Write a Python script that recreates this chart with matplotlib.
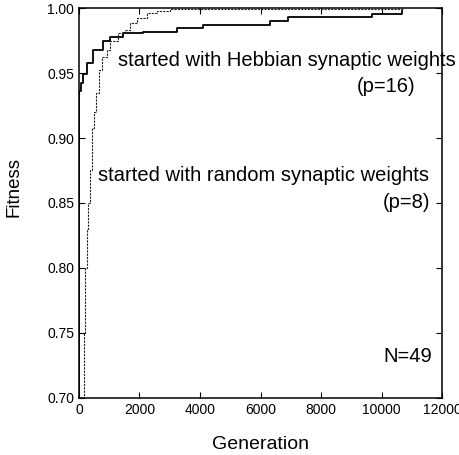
import matplotlib.pyplot as plt

plt.rcParams['font.family'] = ['Liberation Sans', 'DejaVu Sans']

# Hebbian start (p=16)
hebb_gen = [0, 0, 60, 130, 265, 460, 790, 1025, 1450, 2115, 3240, 4100, 6315, 6910, 9685, 10680]
hebb_fit = [0.70, 0.936, 0.942, 0.949, 0.958, 0.968, 0.975, 0.978, 0.981, 0.9815, 0.985, 0.987,
            0.990, 0.993, 0.9954, 0.9977]

# random start (p=8)
rand_gen = [130, 170, 200, 250, 300, 360, 430, 500, 560, 660, 760, 925, 1025, 1290, 1520, 1690,
            1920, 2250, 2580, 3010, 10700]
rand_fit = [0.70, 0.75, 0.80, 0.83, 0.85, 0.875, 0.908, 0.92, 0.935, 0.952, 0.962, 0.968, 0.975,
            0.981, 0.983, 0.9885, 0.992, 0.996, 0.998, 0.9995, 0.9995]

fig = plt.figure(figsize=(4.6, 4.55), dpi=100)
ax = fig.add_axes([0.1717, 0.1253, 0.7893, 0.8571])

ax.plot(hebb_gen, hebb_fit, drawstyle='steps-post', color='black', lw=1.3)
ax.plot(rand_gen, rand_fit, drawstyle='steps-post', color='#222222', lw=0.8, ls=(0, (2, 1)))

ax.set_xlim(0, 12000)
ax.set_ylim(0.70, 1.00)
ax.set_xticks(range(0, 12001, 2000))
ax.set_yticks([0.70, 0.75, 0.80, 0.85, 0.90, 0.95, 1.00])
ax.set_yticklabels(['0.70', '0.75', '0.80', '0.85', '0.90', '0.95', '1.00'])
ax.tick_params(direction='in', top=True, right=True, length=4, labelsize=10)
for s in ax.spines.values():
    s.set_linewidth(1.1)

ax.set_xlabel('Generation', fontsize=14, labelpad=14)
ax.set_ylabel('Fitness', fontsize=13.5, labelpad=12)
ax.yaxis.set_label_coords(-0.155, 0.54)

ax.text(1290, 0.960, 'started with Hebbian synaptic weights', ha='left', va='center', fontsize=14.5)
ax.text(11110, 0.940, '(p=16)', ha='right', va='center', fontsize=14.5)
ax.text(630, 0.8715, 'started with random synaptic weights', ha='left', va='center', fontsize=14.5)
ax.text(11600, 0.850, '(p=8)', ha='right', va='center', fontsize=14.5)
ax.text(10880, 0.7323, 'N=49', ha='center', va='center', fontsize=14.5)

fig.savefig('out.png', dpi=100)
